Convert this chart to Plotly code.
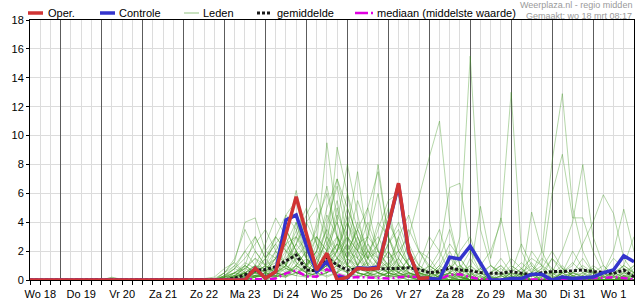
import pandas as pd
import plotly.graph_objects as go

# ---------------- data ----------------
times = pd.date_range("2026-03-18 06:00", periods=60, freq="6h")
tick_noons = pd.date_range("2026-03-18 12:00", periods=15, freq="D")
tick_labels = ["Wo 18", "Do 19", "Vr 20", "Za 21", "Zo 22", "Ma 23", "Di 24", "Wo 25",
               "Do 26", "Vr 27", "Za 28", "Zo 29", "Ma 30", "Di 31", "Wo 1"]
day_lines = pd.date_range("2026-03-19 00:00", periods=14, freq="D")

oper = [0,0,0,0,0,0,0,0,0,0,0,0,0,0,0,0,0,0,0,0,0,0,
        0.81,0.12,0.58,3.2,5.77,3.2,0.69,1.85,0.0,0.19,0.81,0.74,0.81,3.76,6.7,1.96,0.1,0.15]

controle = [0,0,0,0,0,0,0,0,0,0,0,0,0,0,0,0,0,0,0,0,0,0,
            0.81,0.12,0.58,4.15,4.5,2.4,0.58,1.27,0.2,0.15,
            0.85,0.8,0.9,3.7,6.6,1.9,0.1,0.1,0.05,1.57,
            1.45,2.35,1.15,0,0,0.1,0.1,0.39,0.39,0,
            0.2,0.1,0.15,0.2,0.5,0.69,1.68,1.27]

gemiddelde = [0,0,0,0,0,0,0,0,0,0,0,0,0,0,0,0,0,0,0,
              0.03,0.12,0.35,0.69,0.72,0.92,1.34,1.73,0.7,0.62,1.55,1.04,0.69,0.76,0.76,0.76,0.78,0.8,0.85,0.74,
              0.51,0.58,0.85,0.69,0.64,0.51,0.46,0.46,0.58,0.46,0.35,0.51,0.58,0.58,0.64,0.69,0.58,0.51,0.46,0.69,0.23]

mediaan = [0,0,0,0,0,0,0,0,0,0,0,0,0,0,0,0,0,0,0,0,0,0,
           0.05,0.05,0.1,0.46,0.65,0.25,0.23,0.75,0.4,0.15,
           0.2,0.2,0.15,0.1,0.2,0.25,0.2,0.1,0.05,0.35,
           0.4,0.2,0.05,0.03,0.03,0.03,0.03,0.05,0.05,0.03,
           0.03,0.05,0.1,0.1,0.15,0.2,0.15,0.05]

leden = [
 [0,0,0,0,0,0,0,0,0.2,0,0,0,0,0,0,0,0,0, 0,0.2,0.5,1.2,0.8,0.3,1.0,2.5,4.0,2.0,1.0,3.0,5.5,2.0,0.5,0.3,1.0,2.0,0.8,0.2,0, 0,0.3,1.0,0.5,0,0,0.2,0,0,0.5,1.2,0.3,0,0,0.2,0.8,0.3,0,0,0.5,0.2],
 [0,0,0,0,0,0,0,0.05,0.15,0.05,0,0,0,0,0,0,0,0, 0,0,0.3,0.8,1.5,0.5,0.2,1.8,3.5,5.0,2.5,9.5,4.0,1.5,0.8,1.2,0.5,0.2,1.0,0.4,0.1, 0.2,0,0.5,2.0,3.0,0.8,0,0,0,0.3,0,0,0.4,1.0,0.2,0,0,0.3,0,0,0],
 [0,0,0,0,0,0,0,0,0,0,0,0,0,0.1,0.05,0,0,0, 0.1,0.5,1.3,4.0,4.3,2.0,1.5,3.0,1.2,0.5,0.8,2.0,9.2,6.0,2.0,0.5,0,0.3,0.5,1.5,0.8, 0.3,0,0,0.2,0,0,0,0.5,1.5,0.8,0,0,0.1,0.5,0,0,0,0,0.2,0.6,0.3],
 [0,0,0,0,0,0,0,0,0,0,0,0,0,0.12,0,0,0,0.1, 0,0,0,0.5,1.0,2.5,4.3,3.0,6.2,3.0,1.5,0.5,1.0,3.5,7.5,2.5,1.0,0.5,0.2,0,0, 0,0.5,0,0,1.5,0.5,0,0.3,0,0,2.0,1.0,0,0,0,0.5,0.8,0.2,0,0,0.2],
 [0,0,0,0,0,0,0,0,0,0,0,0,0,0,0,0,0,0, 0,0.3,0.8,0.4,0.2,0.5,0.8,1.2,2.0,1.0,4.0,6.0,3.0,1.0,2.0,5.0,7.5,3.0,1.0,0.5,0.3, 1.0,0.5,0.2,0,0,0.3,1.0,0.5,0,0,0,0.2,1.5,0.8,0.3,0,0,0,0.4,1.0,0.5],
 [0,0,0,0,0,0,0,0,0,0,0,0,0,0,0,0,0,0, 0,0,0.2,0.6,2.0,1.0,0.5,4.5,5.5,2.5,0.5,2.0,4.0,8.0,4.5,1.5,0.5,1.0,3.0,1.0,0.3, 0,0,0.3,0.8,0.2,0,0,0,0.5,0.3,0,0,0,0,0.5,1.5,0.5,0,0,0,0],
 [0,0,0,0,0,0,0,0,0,0,0,0,0,0,0,0,0,0, 0,0,0,0.2,0.5,0.3,0.2,0.5,1.0,0.5,0.3,1.5,2.5,1.0,0.5,1.5,2.0,1.5,2.0,3.0,5.8, 8.5,11.0,4.0,1.0,0.3,0,0,0,0.2,0.5,0,0,0.3,0,0,0,0,0.2,0.5,0.2,0],
 [0,0,0,0,0,0,0,0,0,0,0,0,0,0,0,0,0,0.1, 0,0.5,1.5,3.5,2.0,1.0,0.5,1.0,3.0,4.5,6.0,3.0,1.5,0.5,0.2,0.5,1.2,0.5,0.3,0,0, 0,0,0.5,3.0,15.5,3.5,1.0,0.3,0,0,0,0.5,0,0,0,0.2,0,0,0,0.5,1.0],
 [0,0,0,0,0,0,0,0,0,0,0,0,0,0,0,0,0,0, 0,0,0,0,0.3,0.8,1.5,0.8,0.5,0.2,0.5,1.0,2.0,4.0,2.0,0.8,0.5,0.2,0,0.3,1.0, 0.5,0.2,0,0.8,2.0,1.0,2.0,4.0,13.0,2.0,0.5,0,0,0.3,0,0.2,0,0,0,0,0.3],
 [0,0,0,0,0,0,0,0,0,0,0,0,0,0,0,0,0,0, 0,0,0.2,0.5,0.3,0.2,1.0,2.0,1.5,1.0,2.0,3.5,2.0,1.0,0.8,0.5,0.3,0.8,1.5,0.5,0.2, 0,0.3,0.8,0.2,0,0,0.5,1.0,0.3,0,0.5,2.0,8.2,12.9,5.0,2.0,0.5,0,0,0.3,0],
 [0,0,0,0,0,0,0,0,0,0,0,0,0,0,0,0,0,0, 0,0,0,0,0,0.2,0.5,1.2,2.5,1.5,0.8,2.0,3.0,1.5,4.0,2.0,1.0,0.5,0.3,0.2,0, 0,0,0,0.5,1.0,0.3,0,0,0,0.8,1.5,1.0,6.0,8.7,4.3,4.3,2.0,0.5,0,0.2,0.5],
 [0,0,0,0,0,0,0,0,0,0,0,0,0,0,0,0,0,0, 0,0.2,0.5,1.0,0.5,0.3,0.8,1.5,2.5,4.0,2.5,1.0,0.5,2.0,3.5,5.0,2.0,0.8,0.3,0.5,0.2, 0.3,0.8,2.0,0.5,0,0,0,0,0.3,0,0,0,0.5,2.0,4.0,8.0,3.0,1.0,0.3,0,0],
 [0,0,0,0,0,0,0,0,0,0,0,0,0,0,0,0,0,0, 0,0,0.3,0.2,0.5,1.0,2.0,1.0,0.5,0.3,1.0,4.0,6.5,3.0,1.0,0.5,0.8,1.2,0.5,0.2,0, 0,0.2,0.5,1.0,0.5,0.2,0,0.3,0.8,0.3,0,0,0,0.5,1.0,2.5,4.0,5.9,4.6,1.5,0.5],
 [0,0,0,0,0,0,0,0,0,0,0,0,0,0,0,0,0,0, 0,0,0,0.5,1.0,0.5,0.3,0.2,1.0,2.0,0.8,1.5,2.0,5.0,3.0,1.0,2.5,4.5,2.0,1.0,0.5, 0.2,0.5,1.5,0.8,0.3,0,0,0,0.5,1.2,0.5,0,0,0.3,0.5,0.2,0,0.5,2.0,4.9,2.0],
 [0,0,0,0,0,0,0,0,0,0,0,0,0,0,0,0,0,0, 0,0.3,1.0,0.5,0.2,0.5,1.5,3.5,2.0,0.5,0.3,0.5,1.5,2.5,1.0,3.0,6.0,2.0,0.5,0.2,0.3, 0.8,2.0,6.4,6.7,2.0,0.5,0,0,0,0.5,1.0,0.3,0,0,0,0,0.5,1.0,0.3,0,0],
 [0,0,0,0,0,0,0,0,0,0,0,0,0,0,0,0,0,0, 0,0,0.2,1.0,3.0,1.5,0.5,0.8,1.5,0.8,2.0,5.0,7.0,4.0,1.5,0.5,0.2,0.5,1.0,2.5,1.0, 0.5,0.2,0,0,0.5,5.1,1.5,4.3,1.0,0.5,0,0,0.2,0,0,0.3,0.8,0.2,0,0,0.5],
 [0,0,0,0,0,0,0,0,0,0,0,0,0,0,0,0,0,0, 0,0,0,0,0.2,0.5,1.0,0.5,0.3,1.0,3.0,2.0,1.0,0.5,1.0,2.0,1.5,0.5,3.0,4.5,2.0, 1.0,0.5,0.2,0,0,0.5,1.0,0.5,0,0,4.7,2.0,0.5,0,0,0,0.2,0.5,0.2,0,0],
 [0,0,0,0,0,0,0,0,0,0,0,0,0,0,0,0,0,0, 0,0.2,0.8,2.0,1.0,0.5,0.2,0.5,0.8,0.5,1.5,3.5,7.0,5.0,3.0,1.0,0.5,0.3,0.2,0.5,0.3, 0.2,0,0,0.5,0.8,0.3,0,0,0,0,0.3,0.8,0.3,0,0,0.2,0,0,0.3,1.0,3.0],
 [0,0,0,0,0,0,0,0,0,0,0,0,0,0,0,0,0,0, 0,0,0.5,0.3,0.8,1.5,3.0,4.5,3.5,1.5,0.5,0.2,0.5,1.0,2.5,1.5,3.5,5.5,6.0,2.0,0.5, 0.3,0,0,0,0.2,0.5,0.2,0,0,0.3,0.5,1.5,0.8,0.3,0,0,0,0,0.5,0.2,0],
 [0,0,0,0,0,0,0,0,0,0,0,0,0,0,0,0,0,0, 0,0,0,0.3,0.5,0.3,0.5,1.0,2.0,1.0,0.5,1.5,4.5,3.0,2.0,4.0,2.0,1.0,0.5,0.3,0.5, 2.0,3.5,1.0,0.3,0,0,0.3,0.8,0.3,0,0,0,0,0.5,2.0,0.8,0.2,0,0,0.3,1.0],
 [0,0,0,0,0,0,0,0,0,0,0,0,0,0,0,0,0,0.1, 0.2,0.8,1.2,0.5,0.3,0.2,0.5,0.3,1.0,2.0,3.5,6.5,3.0,1.0,0.5,0.3,0.8,2.0,1.0,0.3,0, 0,0.2,0.5,0.2,0,0,0,0,0,0.2,0,0,0,0,0.3,0.2,0,0,0,0,0],
 [0,0,0,0,0,0,0,0,0,0,0,0,0,0,0,0,0,0, 0,0,0,0,0,0,0.2,0.5,0.3,0.2,0.5,1.0,0.5,0.3,0.2,0.5,1.0,0.5,0.3,0.8,2.0, 1.5,0.5,0.2,0,0,0,0,0,0,0,0,0,0,0,0,0,0,0,0,0,0],
 [0,0,0,0,0,0,0,0,0,0,0,0,0,0,0,0,0,0, 0,0,0.2,0.5,0.8,0.5,1.5,2.5,1.2,0.8,2.5,1.5,1.0,2.5,5.5,3.5,1.5,0.8,0.5,1.0,0.5, 0,0.5,1.0,0.3,0,0,0,0.2,0.5,0.2,0,0.2,0.8,0.3,0,0,0,0,0,0.2,0.8],
 [0,0,0,0,0,0,0,0,0,0,0,0,0,0,0,0,0,0, 0,0,0,0.2,0.3,0.2,0.3,0.5,2.0,3.0,1.0,0.5,2.0,4.5,2.5,1.0,0.5,0.2,0.5,1.5,0.8, 0.5,0.2,0,0,0.3,0.8,0.2,0,0,0,0,0,0,0.5,0.2,0,0,0,0,0,0],
 [0,0,0,0,0,0,0,0,0,0,0,0,0,0,0,0,0,0, 0,0.3,0.5,0.8,0.5,1.0,3.0,2.0,1.0,0.5,1.5,2.5,4.0,2.0,1.5,3.0,8.0,3.0,1.0,0.5,0.2, 0,0,0.3,0.5,0.2,0,0.5,1.0,0.3,0,0,0,0,0,0,0.2,0.5,0.3,0,0,0],
 [0,0,0,0,0,0,0,0,0,0,0,0,0,0,0,0,0,0, 0,0,0,0,0.2,0.8,0.5,0.3,1.5,2.5,3.0,1.5,2.5,6.0,3.5,1.5,2.5,5.0,2.0,1.0,0.5, 0.3,1.0,2.5,1.5,0.5,0,0,0,0,0.2,0.5,0.2,0,0,0.5,1.0,0.5,0.2,0,0,0],
 [0,0,0,0,0,0,0,0,0,0,0,0,0,0,0,0,0,0, 0,0,0.3,1.0,0.5,0.2,0.3,0.8,0.5,1.0,0.5,1.0,1.5,1.0,0.5,0.3,1.0,2.5,4.0,2.0,1.0, 3.0,2.0,0.5,0,0,0.2,0,0,0.3,0.8,0.3,0,0,0.5,1.2,0.5,0,0,0,0.3,0.2],
 [0,0,0,0,0,0,0,0,0,0,0,0,0,0,0,0,0,0, 0,0,0,0,0.2,0.3,0.5,0.3,0.5,0.3,0.2,0.5,0.8,0.5,0.3,0.2,0.5,0.3,0.2,0,0, 0,0,0,0,0,0,0,0,0,0,0,0,0,0,0,0,0,0,0,0,0],
 [0,0,0,0,0,0,0,0,0,0,0,0,0,0,0,0,0,0, 0,0.2,0.3,0.2,0.5,1.0,0.5,0.2,0.8,1.5,0.8,0.5,1.0,2.0,1.0,0.5,0.3,0.5,0.8,0.3,0.2, 0.5,1.5,3.5,1.0,0.3,0,0,0,0,0,0.3,0.8,2.0,0.8,0.3,0,0,0,0,0,0],
 [0,0,0,0,0,0,0,0,0,0,0,0,0,0,0,0,0,0, 0,0,0,0.3,0.5,1.5,2.5,1.0,0.5,0.3,0.8,1.2,0.5,1.5,3.0,1.5,0.8,0.5,1.5,3.5,2.0, 0.8,0.3,0,0,0,0,0.2,0.5,0.2,0,0,0,0,0.2,0.5,0.3,0,0.5,1.5,0.8,0.3],
 [0,0,0,0,0,0,0,0,0,0,0,0,0,0,0,0,0,0, 0,0,0,0,0.3,0.2,0.3,1.0,4.0,1.5,0.5,1.0,3.0,1.5,0.5,0.3,0.2,0.5,0.3,0.2,0, 0,0,0.2,0.5,0.2,0,0,0,0,0,0,0.5,1.5,0.5,0,0,0,0,0,0,0],
 [0,0,0,0,0,0,0,0,0,0,0,0,0,0,0,0,0,0, 0,0.1,0.3,0.5,1.0,0.8,1.2,0.8,0.5,1.0,2.0,1.0,2.5,1.5,1.0,2.0,3.0,1.5,0.5,0.2,0.5, 0.2,0,0,0.3,1.0,0.5,0.2,0,0,0.5,0.3,0,0,0,0.3,0.5,0.2,0,0.3,0.8,0.5],
 [0,0,0,0,0,0,0,0,0,0,0,0,0,0,0,0,0,0, 0,0,0,0,0,0,0.2,0.5,1.0,0.5,0.3,0.5,1.0,0.5,0.3,0.5,1.5,0.8,0.3,0.2,0.5, 1.0,0.5,0.3,0.2,0,0,0,0,0,0,0,0,0,0,0,0,0.3,0.5,0.2,0,0],
 [0,0,0,0,0,0,0,0,0,0,0,0,0,0,0,0,0,0, 0,0,0.2,0.5,0.3,0.5,2.0,3.5,2.0,1.0,0.5,0.3,0.5,1.0,0.5,0.3,0.2,0.5,1.0,0.8,0.3, 0.2,0.8,0.3,0,0,0,0,0.3,1.0,0.5,0,0,0,0,0,0,0,0.2,0.5,1.0,0.5],
 [0,0,0,0,0,0,0,0,0,0,0,0,0,0,0,0,0,0, 0,0,0,0,0.2,0.5,0.3,0.2,0.5,0.8,0.5,1.0,2.0,3.0,1.5,0.8,0.5,1.0,0.5,0.2,0.2, 0,0,0,0,0.3,0.8,0.3,0,0,0,0,0.3,0.5,0.3,0,0,0,0,0,0.3,0.2],
 [0,0,0,0,0,0,0,0,0,0,0,0,0,0,0,0,0,0, 0,0.2,0.5,0.3,0.2,0.3,0.5,1.0,0.5,0.3,0.5,0.8,1.5,0.8,0.5,0.3,0.5,0.3,0.2,0.5,0.3, 0,0.3,0.5,0.3,0,0,0,0,0,0,0,0,0,0,0,0,0,0,0,0,0],
 [0,0,0,0,0,0,0,0,0,0,0,0,0,0,0,0,0,0, 0,0.5,1.0,2.0,3.0,1.5,2.5,3.5,2.0,1.0,2.0,4.5,3.0,2.0,3.5,2.0,1.0,2.5,3.5,1.5,0.5, 0.3,1.0,0.5,0.2,0,0,0.5,1.5,0.5,0,0,0,0.3,0.8,0.3,0,0,0,0.2,0.5,0.2],
 [0,0,0,0,0,0,0,0,0,0,0,0,0,0,0,0,0,0, 0,0.3,0.8,1.5,2.5,3.5,2.0,1.0,2.5,4.0,5.0,2.5,1.5,3.0,2.0,1.5,4.0,3.0,1.5,0.5,0.2, 0,0,0.5,1.0,0.3,0,0,0,0.5,2.5,1.0,0.3,0,0,0,0.3,1.0,0.5,0,0,0],
 [0,0,0,0,0,0,0,0,0,0,0,0,0,0,0,0,0,0, 0,0,0.5,1.0,0.5,2.0,3.0,2.0,3.0,1.5,3.0,2.0,5.0,2.5,1.0,2.5,1.5,4.0,2.5,1.0,0.5, 0.2,0.5,1.0,0.5,0,0,0,0.3,0,0,0.5,1.0,0.5,0,0,0,0,0.3,0.8,0.3,0],
 [0,0,0,0,0,0,0,0,0,0,0,0,0,0,0,0,0,0, 0,0.2,0.3,0.8,1.5,1.0,1.5,2.5,3.0,2.0,1.0,3.0,2.0,4.0,2.5,3.0,2.0,1.0,2.0,1.0,0.3, 0,0.3,0.8,1.5,0.5,0,0,0,0,0.3,0.8,0.3,0,0,0.5,0.2,0,0,0,0,0],
]

y_ticks = [0, 2, 4, 6, 8, 10, 12, 14, 16, 18]

for i, m in enumerate(leden):
    assert len(m) == len(times), (i, len(m))

# ---------------- style / layout constants ----------------
W, H = 635, 300
ML, MR, MT, MB = 30, 1, 20, 20
PW, PH = W - ML - MR, H - MT - MB
FONT = "Arial, Liberation Sans, sans-serif"

RED = "#d03434"
BLUE = "#3434cc"
GREEN = "rgba(60,150,30,0.38)"
BLACK = "#1a1a1a"
MAGENTA = "#e000e0"
MEAN_DASH = "3px,2px"
MED_DASH = "7px,3px,2px,3px"


def px(xp):
    return (xp - ML) / PW


def py(yp):
    return (H - MB - yp) / PH


fig = go.Figure()

for m in leden:
    fig.add_trace(go.Scatter(x=times, y=m, mode="lines",
                             line=dict(color=GREEN, width=1),
                             hoverinfo="skip", showlegend=False))

fig.add_trace(go.Scatter(x=times, y=mediaan, mode="lines",
                         line=dict(color=MAGENTA, width=2.5, dash=MED_DASH),
                         showlegend=False))
fig.add_trace(go.Scatter(x=times, y=gemiddelde, mode="lines",
                         line=dict(color=BLACK, width=3, dash=MEAN_DASH),
                         showlegend=False))
fig.add_trace(go.Scatter(x=times, y=controle, mode="lines",
                         line=dict(color=BLUE, width=3.5), showlegend=False))
fig.add_trace(go.Scatter(x=times[:len(oper)], y=oper, mode="lines",
                         line=dict(color=RED, width=3.5), showlegend=False))
# helper trace so the day-line axis exists
fig.add_trace(go.Scatter(x=[], y=[], xaxis="x2", yaxis="y", showlegend=False))

xrange = [times[0], times[-1]]

fig.update_layout(
    width=W, height=H,
    margin=dict(l=ML, r=MR, t=MT, b=MB, pad=0),
    paper_bgcolor="white", plot_bgcolor="white",
    font=dict(family=FONT, size=11, color="black"),
    showlegend=False,
    xaxis=dict(
        type="date", range=xrange,
        tickmode="array", tickvals=tick_noons, ticktext=tick_labels,
        ticks="outside", ticklen=4, tickcolor="black", tickwidth=1,
        showgrid=True, gridcolor="#dcdcdc", gridwidth=1,
        minor=dict(tickmode="linear", tick0="2026-03-18 06:00", dtick=6 * 3600 * 1000,
                   ticks="outside", ticklen=4, tickcolor="black", tickwidth=1,
                   showgrid=True, gridcolor="#dcdcdc", gridwidth=1),
        showline=True, linecolor="black", linewidth=1, mirror=True,
        zeroline=False, tickfont=dict(size=11, family=FONT, color="black"),
        fixedrange=True,
    ),
    xaxis2=dict(
        type="date", range=xrange, overlaying="x", anchor="y", side="bottom",
        tickmode="array", tickvals=day_lines,
        ticks="outside", ticklen=4, tickcolor="black",
        showticklabels=False, showgrid=True, gridcolor="#5c5c5c", gridwidth=1,
        showline=False, zeroline=False, fixedrange=True,
    ),
    yaxis=dict(
        range=[0, 18], tickmode="array", tickvals=y_ticks,
        ticks="outside", ticklen=3, tickcolor="black",
        showgrid=True, gridcolor="#dcdcdc", gridwidth=1,
        showline=True, linecolor="black", linewidth=1, mirror=True,
        zeroline=False, tickfont=dict(size=11, family=FONT, color="black"),
        fixedrange=True,
    ),
)

# ---------------- manual legend ----------------
legend_items = [
    ("Oper.", dict(color=RED, width=3.5), 28, 43, 47),
    ("Controle", dict(color=BLUE, width=3.5), 100, 115, 118),
    ("Leden", dict(color=GREEN, width=1.5), 184, 199, 202),
    ("gemiddelde", dict(color=BLACK, width=3, dash=MEAN_DASH), 257, 271, 276),
    ("mediaan (middelste waarde)", dict(color=MAGENTA, width=2.5, dash="13px,3px,2px,20px"), 355, 373, 376),
]
LEG_Y = 13
for text, ln, x0, x1, tx in legend_items:
    fig.add_shape(type="line", xref="paper", yref="paper",
                  x0=px(x0), x1=px(x1), y0=py(LEG_Y), y1=py(LEG_Y), line=ln)
    fig.add_annotation(text=text, xref="paper", yref="paper",
                       x=px(tx - 1), y=py(LEG_Y), xanchor="left", yanchor="middle",
                       showarrow=False, font=dict(size=11, family=FONT, color="black"))

fig.add_annotation(text="Weerplaza.nl - regio midden", xref="paper", yref="paper",
                   x=px(634), y=py(5.5), xanchor="right", yanchor="middle",
                   showarrow=False, font=dict(size=9, family=FONT, color="#9a9a9a"))
fig.add_annotation(text="Gemaakt: wo 18 mrt 08:17", xref="paper", yref="paper",
                   x=px(634), y=py(15.5), xanchor="right", yanchor="middle",
                   showarrow=False, font=dict(size=9, family=FONT, color="#9a9a9a"))

fig.write_html("out.html", config={"displayModeBar": False, "staticPlot": True})
